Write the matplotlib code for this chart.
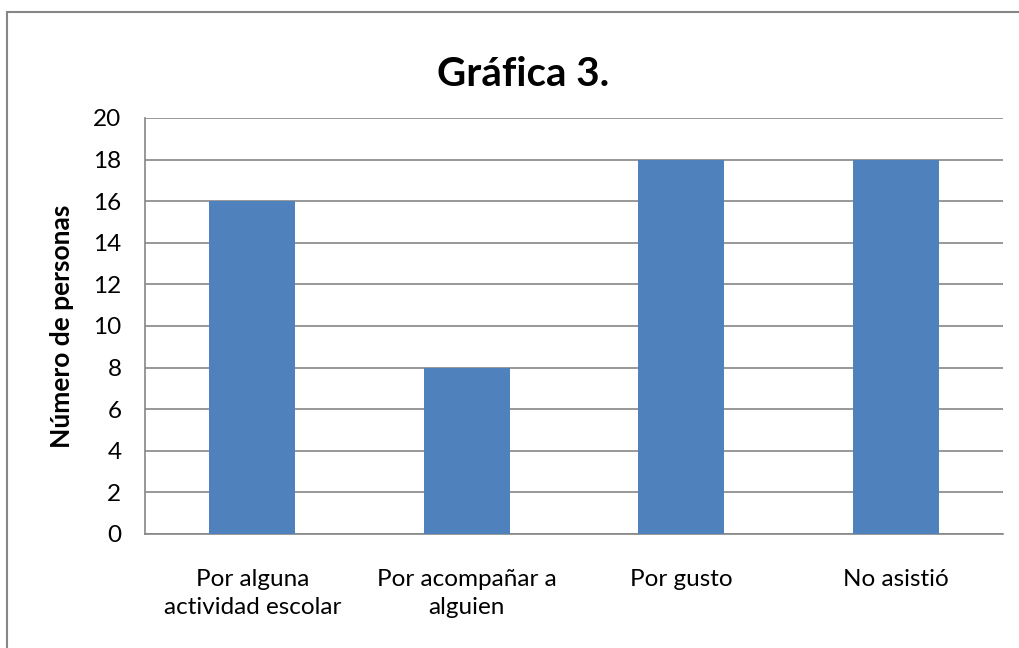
import matplotlib.pyplot as plt
from matplotlib.patches import Rectangle

categories = ["Por alguna\nactividad escolar", "Por acompañar a\nalguien", "Por gusto", "No asistió"]
values = [16, 8, 18, 18]
yticks = [0, 2, 4, 6, 8, 10, 12, 14, 16, 18, 20]

plt.rcParams["font.family"] = ["Lato", "DejaVu Sans"]

W, H = 1019, 648
fig = plt.figure(figsize=(W / 100, H / 100), dpi=100)

# outer chart border (cropped on right/bottom in the original)
fig.patches.append(Rectangle((7 / W, -0.05), 2.0, 1 - 12 / H + 0.05,
                             transform=fig.transFigure, fill=False,
                             edgecolor="#868686", linewidth=1.5))

ax = fig.add_axes([145 / W, 1 - 534 / H, (1003 - 145) / W, (534 - 118) / H])
x = range(len(categories))
ax.bar(x, values, width=0.4, color="#4F81BD", zorder=3)

ax.set_xlim(-0.5, len(categories) - 0.5)
ax.set_ylim(0, 20)
ax.set_yticks(yticks)
ax.set_yticklabels([str(v) for v in yticks], fontsize=17.5)
ax.set_xticks(list(x))
ax.set_xticklabels(categories, fontsize=17.5, linespacing=1.45)
ax.tick_params(axis="both", length=0)
ax.tick_params(axis="y", pad=17)
ax.tick_params(axis="x", pad=25)

ax.grid(axis="y", color="#868686", linewidth=1.2, zorder=0)
for s in ["top", "right"]:
    ax.spines[s].set_visible(False)
for s in ["left", "bottom"]:
    ax.spines[s].set_color("#868686")
    ax.spines[s].set_linewidth(1.2)

ax.set_ylabel("Número de personas", fontsize=19, fontweight="bold", labelpad=14)
fig.text(523 / W, 1 - 74 / H, "Gráfica 3.", ha="center", va="center",
         fontsize=29, fontweight="bold")

fig.savefig("out.png", dpi=100)
